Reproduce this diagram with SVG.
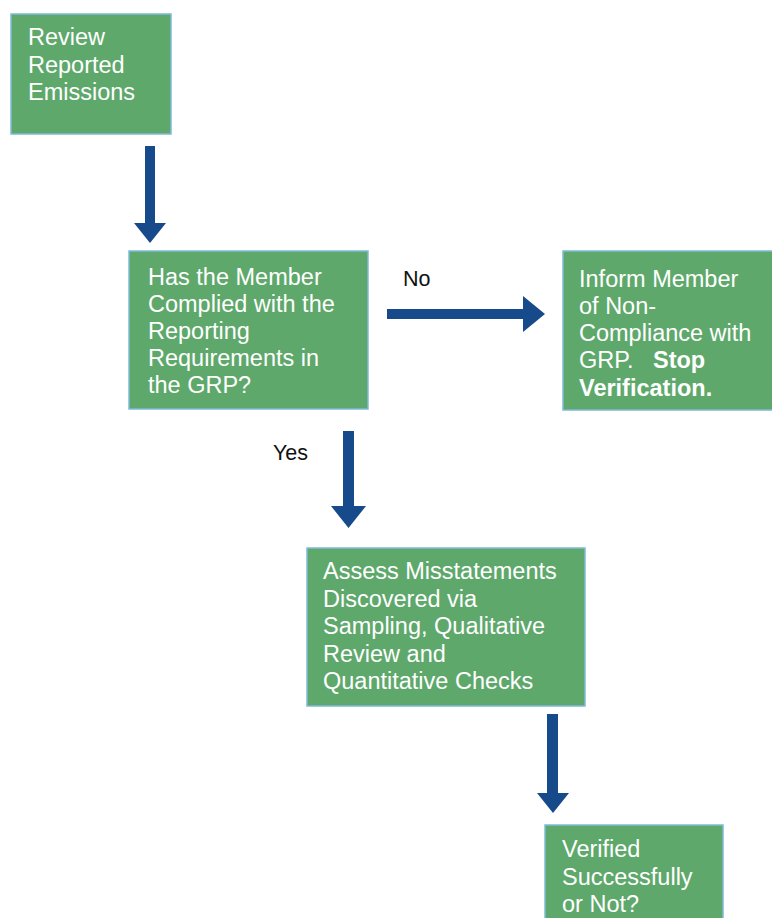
<svg xmlns="http://www.w3.org/2000/svg" width="772" height="918" viewBox="0 0 772 918">
<style>
.box{fill:#5ea86b;stroke:#7fbad9;stroke-width:1.5}
.t{font-family:"Liberation Sans",Arial,sans-serif;font-size:23.5px;fill:#ffffff}
.b{font-weight:bold}
.lbl{font-family:"Liberation Sans",Arial,sans-serif;font-size:21.5px;fill:#111111}
.arr{fill:#174a8b}
</style>
<rect width="772" height="918" fill="#ffffff"/>
<g id="connectors">
<polygon class="arr" points="145,146 155,146 155,223 166,223 150,243 134,223 145,223"/>
<polygon class="arr" points="387,309 523,309 523,296 545,314 523,332 523,319 387,319"/>
<polygon class="arr" points="343,431 354,431 354,506 366,506 348.5,528 331,506 343,506"/>
<polygon class="arr" points="547,714 558,714 558,793 569,793 553,813 537,793 547,793"/>
<text class="lbl" x="403" y="286">No</text>
<text class="lbl" x="273" y="460">Yes</text>
</g>
<g id="n1">
<rect class="box" x="11" y="14" width="160" height="120"/>
<text class="t" x="28" y="45">Review</text>
<text class="t" x="28" y="72.5">Reported</text>
<text class="t" x="28" y="100">Emissions</text>
</g>
<g id="n2">
<rect class="box" x="129" y="251" width="239" height="158"/>
<text class="t" x="148" y="285">Has the Member</text>
<text class="t" x="148" y="312">Complied with the</text>
<text class="t" x="148" y="339">Reporting</text>
<text class="t" x="148" y="366">Requirements in</text>
<text class="t" x="148" y="393">the GRP?</text>
</g>
<g id="n3">
<rect class="box" x="563" y="251" width="212" height="159"/>
<text class="t" x="579" y="287">Inform Member</text>
<text class="t" x="579" y="314">of Non-</text>
<text class="t" x="579" y="341">Compliance with</text>
<text class="t" x="579" y="368" xml:space="preserve">GRP.   <tspan class="b">Stop</tspan></text>
<text class="t b" x="579" y="396">Verification.</text>
</g>
<g id="n4">
<rect class="box" x="307" y="548" width="278" height="158"/>
<text class="t" x="323" y="579">Assess Misstatements</text>
<text class="t" x="323" y="606.5">Discovered via</text>
<text class="t" x="323" y="634">Sampling, Qualitative</text>
<text class="t" x="323" y="661.5">Review and</text>
<text class="t" x="323" y="689">Quantitative Checks</text>
</g>
<g id="n5">
<rect class="box" x="545" y="825" width="178" height="100"/>
<text class="t" x="562" y="857">Verified</text>
<text class="t" x="562" y="884.5">Successfully</text>
<text class="t" x="562" y="912">or Not?</text>
</g>
</svg>
